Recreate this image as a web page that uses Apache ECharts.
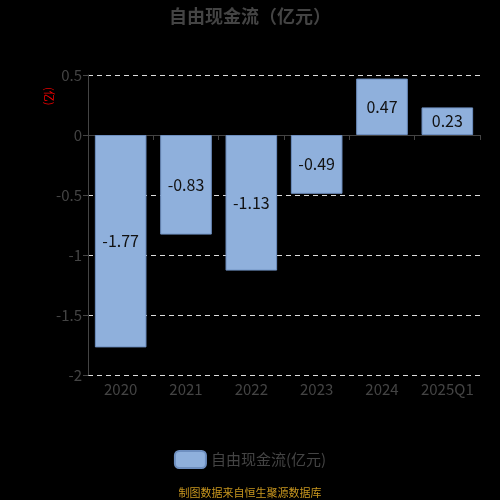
<!DOCTYPE html>
<html><head><meta charset="utf-8">
<script src="https://cdn.jsdelivr.net/npm/echarts@6/dist/echarts.min.js"></script>
<style>html,body{margin:0;padding:0;background:#000;}#c{width:500px;height:500px;}</style>
</head><body><div id="c"></div>
<script>
const categories = ['2020','2021','2022','2023','2024','2025Q1'];
const values = [-1.77, -0.83, -1.13, -0.49, 0.47, 0.23];
const seriesName = '自由现金流(亿元)';
const titleText = '自由现金流（亿元）';
const footText = '制图数据来自恒生聚源数据库';
const yUnit = '(亿)';

const chart = echarts.init(document.getElementById('c'));
const font = '"Noto Sans CJK SC", "Noto Sans", sans-serif';
chart.setOption({
  backgroundColor: '#000',
  animation: false,
  title: {text: titleText, left: 'center', top: 2,
    textStyle: {color: '#444', fontSize: 18, fontWeight: 'bold', fontFamily: font}},
  grid: {left: 88, right: 20, top: 75, bottom: 125},
  legend: {data: [seriesName], bottom: 26, left: 'center', itemWidth: 31, itemHeight: 17,
    icon: 'roundRect', itemGap: 8,
    textStyle: {color: '#444', fontSize: 15, fontFamily: font}},
  graphic: [
    {type: 'text', left: 'center', bottom: 2, style: {text: footText, fill: '#c8961e', fontSize: 11, fontFamily: font}},
    {type: 'text', x: 55, y: 87, rotation: -Math.PI/2, style: {text: yUnit, fill: '#e00', fontSize: 11, fontFamily: font}}
  ],
  xAxis: [
    {type: 'category', data: categories, position: 'bottom',
     axisLine: {show: false, onZero: false}, axisTick: {show: false},
     axisLabel: {color: '#444', fontSize: 15, margin: 7, interval: 0, hideOverlap: false, fontFamily: font}},
    {type: 'category', data: categories, position: 'bottom', gridIndex: 0,
     axisLine: {show: true, onZero: true, lineStyle: {color: '#444'}},
     axisTick: {show: true, length: 5, lineStyle: {color: '#444'}},
     axisLabel: {show: false}}
  ],
  yAxis: {type: 'value', min: -2, max: 0.5, interval: 0.5,
    axisLine: {show: true, lineStyle: {color: '#444'}},
    axisTick: {show: true, length: 5, lineStyle: {color: '#444'}},
    axisLabel: {color: '#444', fontSize: 15, margin: 6, fontFamily: font},
    splitLine: {show: true, lineStyle: {color: '#ddd', type: [5, 4], width: 1}}},
  series: [{
    name: seriesName, type: 'bar', data: values, barWidth: '79%', xAxisIndex: 0,
    itemStyle: {color: '#8fb0dc', borderColor: '#6e8fc0', borderWidth: 1},
    label: {show: true, position: 'inside', color: '#111', fontSize: 16, fontFamily: font}
  }]
});
</script></body></html>
